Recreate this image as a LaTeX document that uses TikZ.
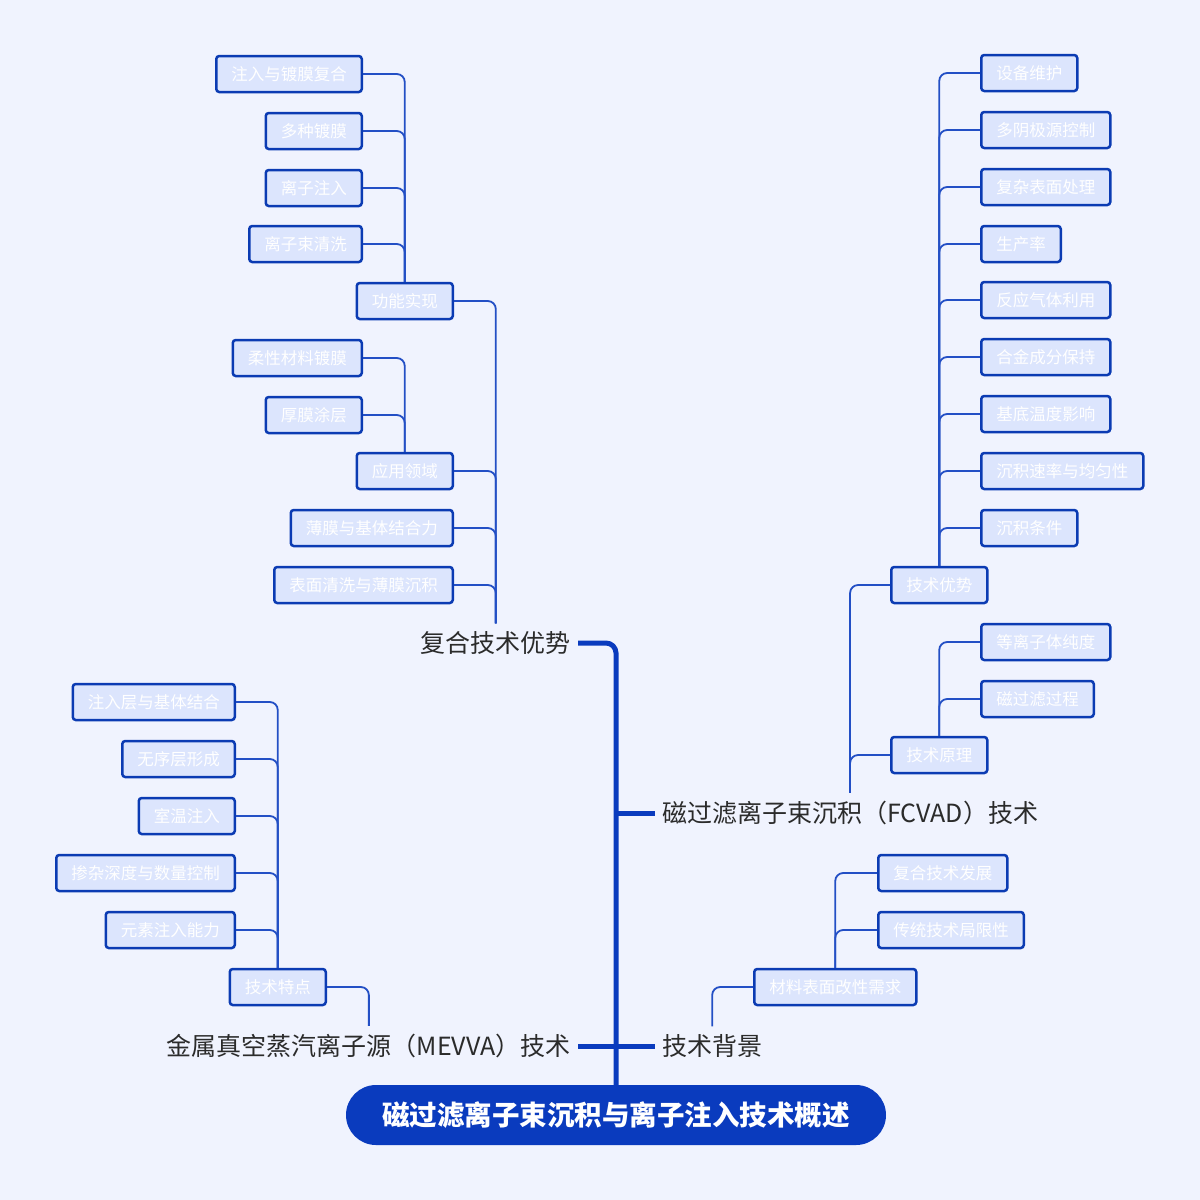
\documentclass[tikz,border=0pt]{standalone}
\usepackage{fontspec}
\setmainfont{Noto Sans CJK SC}
\definecolor{bg}{HTML}{F0F3FE}
\definecolor{mainc}{HTML}{0A3BBE}
\definecolor{leaffill}{HTML}{DCE5FD}
\definecolor{leafdraw}{HTML}{0B3BB3}
\definecolor{lblc}{HTML}{2B2B2B}
\tikzset{
  leaf/.style={draw=leafdraw, fill=leaffill, line width=2.5pt, rounded corners=3pt, text=white,
    font=\fontsize{16.5}{18}\selectfont, inner xsep=15pt, inner ysep=0pt, minimum height=36pt},
  lbl/.style={text=lblc, font=\fontsize{25}{27}\selectfont, inner xsep=7pt, inner ysep=8pt},
  rootbox/.style={fill=mainc, rounded corners=30pt, minimum width=540pt, minimum height=60pt,
    text=white, font=\bfseries\fontsize{27.5}{30}\selectfont},
  trunk/.style={draw=mainc, line width=5pt, rounded corners=10pt},
  twig/.style={draw=mainc!90!white, line width=1.8pt, rounded corners=8pt}
}
\begin{document}
\begin{tikzpicture}[x=1pt,y=-1pt]
\fill[bg] (0,0) rectangle (1200,1200);
\useasboundingbox (0,0) rectangle (1200,1200);

% root
\node[rootbox] (root) at (616,1115) {磁过滤离子束沉积与离子注入技术概述};

% level 1
\node[lbl, anchor=east] (fh) at (578,643) {复合技术优势};
\node[lbl, anchor=west] (fc) at (655,813) {磁过滤离子束沉积（FCVAD）技术};
\node[lbl, anchor=east] (mv) at (578,1046) {金属真空蒸汽离子源（MEVVA）技术};
\node[lbl, anchor=west] (bj) at (655,1046) {技术背景};

% trunk
\draw[trunk] (root.north) |- (fh.east);
\draw[trunk] (root.north |- fc.west) -- (fc.west);
\draw[trunk] (mv.east) -- (bj.west);

% 复合技术优势 subtree
\node[leaf, anchor=east] (gn) at (454,301) {功能实现};
\node[leaf, anchor=east] (yy) at (454,471) {应用领域};
\node[leaf, anchor=east] (bm) at (454,528) {薄膜与基体结合力};
\node[leaf, anchor=east] (bq) at (454,585) {表面清洗与薄膜沉积};
\node[leaf, anchor=east] (zr) at (363,74) {注入与镀膜复合};
\node[leaf, anchor=east] (dz) at (363,131) {多种镀膜};
\node[leaf, anchor=east] (lz) at (363,188) {离子注入};
\node[leaf, anchor=east] (lq) at (363,244) {离子束清洗};
\node[leaf, anchor=east] (rx) at (363,358) {柔性材料镀膜};
\node[leaf, anchor=east] (hm) at (363,415) {厚膜涂层};
\foreach \c in {gn,yy,bm,bq} \draw[twig] (fh.north) |- (\c.east);
\foreach \c in {zr,dz,lz,lq} \draw[twig] (gn.north) |- (\c.east);
\foreach \c in {rx,hm} \draw[twig] (yy.north) |- (\c.east);

% FCVAD subtree
\node[leaf, anchor=west] (ys) at (890,585) {技术优势};
\node[leaf, anchor=west] (yl) at (890,755) {技术原理};
\node[leaf, anchor=west] (a1) at (980,73) {设备维护};
\node[leaf, anchor=west] (a2) at (980,130) {多阴极源控制};
\node[leaf, anchor=west] (a3) at (980,187) {复杂表面处理};
\node[leaf, anchor=west] (a4) at (980,244) {生产率};
\node[leaf, anchor=west] (a5) at (980,300) {反应气体利用};
\node[leaf, anchor=west] (a6) at (980,357) {合金成分保持};
\node[leaf, anchor=west] (a7) at (980,414) {基底温度影响};
\node[leaf, anchor=west] (a8) at (980,471) {沉积速率与均匀性};
\node[leaf, anchor=west] (a9) at (980,528) {沉积条件};
\node[leaf, anchor=west] (b1) at (980,642) {等离子体纯度};
\node[leaf, anchor=west] (b2) at (980,699) {磁过滤过程};
\foreach \c in {ys,yl} \draw[twig] (fc.north) |- (\c.west);
\foreach \c in {a1,a2,a3,a4,a5,a6,a7,a8,a9} \draw[twig] (ys.north) |- (\c.west);
\foreach \c in {b1,b2} \draw[twig] (yl.north) |- (\c.west);

% MEVVA subtree
\node[leaf, anchor=east] (td) at (327,987) {技术特点};
\node[leaf, anchor=east] (c1) at (236,702) {注入层与基体结合};
\node[leaf, anchor=east] (c2) at (236,759) {无序层形成};
\node[leaf, anchor=east] (c3) at (236,816) {室温注入};
\node[leaf, anchor=east] (c4) at (236,873) {掺杂深度与数量控制};
\node[leaf, anchor=east] (c5) at (236,930) {元素注入能力};
\draw[twig] (mv.north) |- (td.east);
\foreach \c in {c1,c2,c3,c4,c5} \draw[twig] (td.north) |- (\c.east);

% 技术背景 subtree
\node[leaf, anchor=west] (xq) at (753,987) {材料表面改性需求};
\node[leaf, anchor=west] (d1) at (877,873) {复合技术发展};
\node[leaf, anchor=west] (d2) at (877,930) {传统技术局限性};
\draw[twig] (bj.north) |- (xq.west);
\foreach \c in {d1,d2} \draw[twig] (xq.north) |- (\c.west);
\end{tikzpicture}
\end{document}
